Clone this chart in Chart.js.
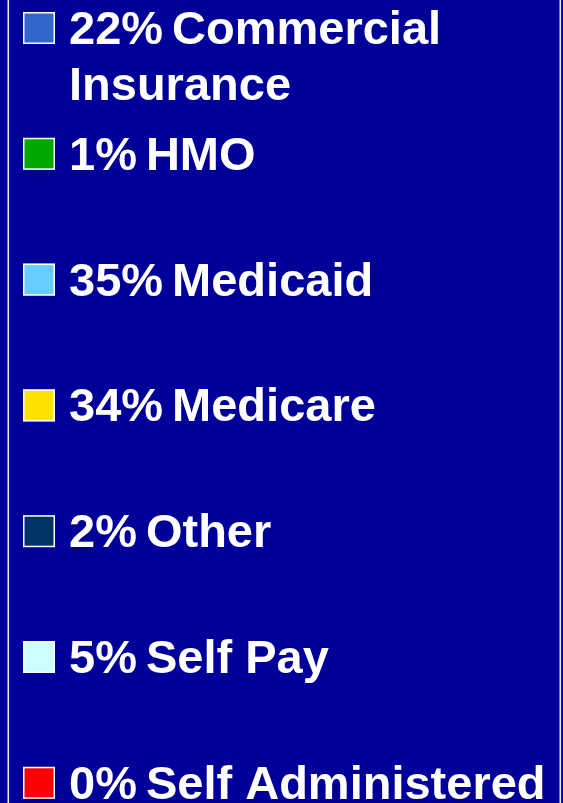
<!DOCTYPE html>
<html>
<head>
<meta charset="utf-8">
<script src="https://cdn.jsdelivr.net/npm/chart.js@4/dist/chart.umd.min.js"></script>
<style>
  html, body { margin: 0; padding: 0; background: #000099; overflow: hidden; }
  #wrap { position: relative; width: 1126px; height: 803px; }
</style>
</head>
<body>
<div id="wrap"><canvas id="payerChart"></canvas></div>
<script>
// payer mix, one entry per slice
const payers = ['Commercial\nInsurance', 'HMO', 'Medicaid', 'Medicare', 'Other', 'Self Pay', 'Self Administered'];
const shares = [22, 1, 35, 34, 2, 5, 0];
const sliceColors = ['#3366CC', '#00A800', '#66CCFF', '#FFE100', '#003366', '#CCFFFF', '#FF0000'];

const BG = '#000099';
const FONT = 'bold 47px "Liberation Sans", Arial, sans-serif';

// legend panel on the left; the pie itself sits off to the right of the crop
const legendPanel = {
  id: 'legendPanel',
  beforeDraw(chart) {
    const { ctx } = chart;
    ctx.save();
    ctx.fillStyle = BG;
    ctx.fillRect(0, 0, chart.width, chart.height);
    ctx.restore();
  },
  afterDraw(chart) {
    const { ctx } = chart;
    const labels = chart.data.labels;
    const ds = chart.data.datasets[0];
    ctx.save();
    // panel edges
    ctx.fillStyle = '#E6E6FF';
    ctx.fillRect(7.5, 0, 1.6, chart.height);
    ctx.fillRect(559.5, 0, 1.6, chart.height);

    ctx.font = FONT;
    ctx.textBaseline = 'alphabetic';
    ctx.textAlign = 'left';
    const top = 12, pitch = 125.8, box = 32, textX = 69, gap = 9;
    labels.forEach((lab, i) => {
      const y = top + i * pitch;
      ctx.fillStyle = ds.backgroundColor[i];
      ctx.fillRect(23, y, box, box);
      ctx.strokeStyle = '#FFFFFF';
      ctx.lineWidth = 1.5;
      ctx.strokeRect(23.75, y + 0.75, box - 1.5, box - 1.5);

      const pct = ds.data[i] + '%';
      const nameX = textX + ctx.measureText(pct).width + gap;
      ctx.fillStyle = '#FFFFFF';
      ctx.fillText(pct, textX, y + box);
      lab.split('\n').forEach((ln, k) => {
        ctx.fillText(ln, k === 0 ? nameX : textX, y + box + k * 56);
      });
    });
    ctx.restore();
  }
};

new Chart(document.getElementById('payerChart'), {
  type: 'pie',
  data: {
    labels: payers,
    datasets: [{ data: shares, backgroundColor: sliceColors, borderColor: '#FFFFFF', borderWidth: 1 }],
  },
  options: {
    responsive: true,
    maintainAspectRatio: false,
    animation: false,
    layout: { padding: { left: 620, right: 40, top: 150, bottom: 150 } },
    plugins: { legend: { display: false }, tooltip: { enabled: false } },
  },
  plugins: [legendPanel],
});
</script>
</body>
</html>
